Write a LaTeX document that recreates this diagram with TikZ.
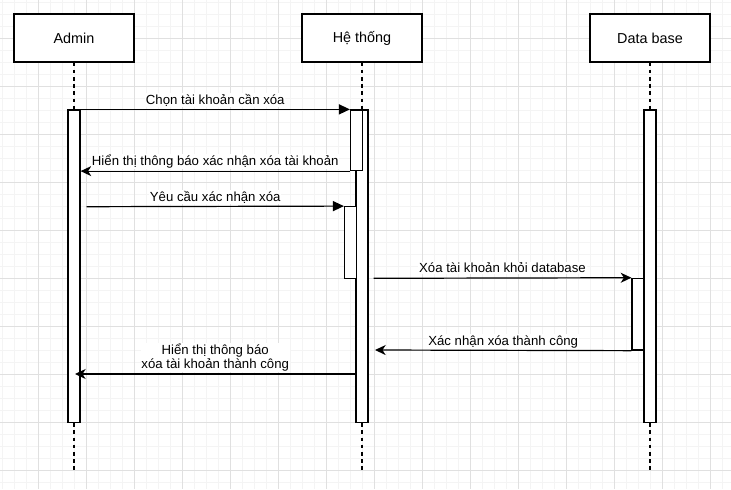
\documentclass[tikz,border=0pt]{standalone}
\usepackage{fontspec}
\setmainfont{Liberation Sans}
\usetikzlibrary{arrows.meta}
\definecolor{gridmajor}{HTML}{E0E0E0}
\definecolor{gridminor}{HTML}{F4F4F4}
\begin{document}
\begin{tikzpicture}[x = 0.75pt, y = -0.75pt,
	actor/.style = {draw, line width = 0.9pt, fill = white, minimum width = 90pt, minimum height = 36pt, inner sep = 0pt, font = \fontsize{10.8}{13}\selectfont},
	bar/.style = {draw, line width = 0.9pt, fill = white, minimum width = 9pt, inner sep = 0pt},
	life/.style = {line width = 0.9pt, dash pattern = on 2.7pt off 2.7pt},
	msg/.style = {line width = 0.9pt},
	call/.style = {msg, -{Triangle[length = 8.2pt, width = 7.5pt]}},
	reply/.style = {msg, -{Stealth[length = 8pt, width = 7.5pt, inset = 2.4pt]}},
	lbl/.style = {fill = white, inner sep = 0.6pt, anchor = base, yshift = 4pt, font = \fontsize{9.9}{11}\selectfont, align = center}]
\useasboundingbox[fill = white] (0,0) rectangle (731,489);
\foreach \x in {2.5,14.5,...,730.5} {
	\draw[gridminor, line width = 0.75pt] (\x,0) to (\x,489);
}
\foreach \y in {2.5,14.5,...,488.5} {
	\draw[gridminor, line width = 0.75pt] (0,\y) to (731,\y);
}
\foreach \x in {38.5,86.5,...,710.5} {
	\draw[gridmajor, line width = 0.75pt] (\x,0) to (\x,489);
}
\foreach \y in {38.5,86.5,...,470.5} {
	\draw[gridmajor, line width = 0.75pt] (0,\y) to (731,\y);
}

\node[actor] (admin) at (74,38) {Admin};
\node[actor] (system) at (362,38) {Hệ thống};
\node[actor] (db) at (650,38) {Data base};

\node[bar, minimum height = 234.4pt] (aA) at (74,266.25) {};
\node[bar, minimum height = 234.4pt] (aH) at (362,266.25) {};
\node[bar, minimum height = 234.4pt] (aD) at (650,266.25) {};
\node[bar, minimum height = 45.4pt] (s1) at (356.5,140.25) {};
\node[bar, minimum height = 53.7pt] (s2) at (350.5,242.5) {};
\node[bar, minimum height = 53.8pt] (s3) at (638,314.2) {};

\foreach \n/\a in {admin/aA, system/aH, db/aD} {
	\draw[life] (\n) to (\a);
	\draw[life] (\a.south) to ++(0,48);
}

\coordinate (m3s) at (86.5,206.7);
\coordinate (m4s) at (373.5,278.3);
\coordinate (m5e) at (375,350);
\coordinate (m6e) at (75,374);

\draw[call] (aA.north east) to node[lbl] {Chọn tài khoản cần xóa} (s1.north west);
\draw[reply] (s1.south west) to node[lbl] {Hiển thị thông báo xác nhận xóa tài khoản} (s1.south west -| aA.east);
\draw[call] (m3s) to node[lbl] {Yêu cầu xác nhận xóa} (s2.north west);
\draw[reply] (m4s) to node[lbl] {Xóa tài khoản khỏi database} (s3.north west);
\draw[reply] (s3.south west) to node[lbl] {Xác nhận xóa thành công} (m5e);
\draw[reply] (aH.west |- m6e) to node[lbl] {Hiển thị thông báo\\xóa tài khoản thành công} (m6e);
\end{tikzpicture}
\end{document}
